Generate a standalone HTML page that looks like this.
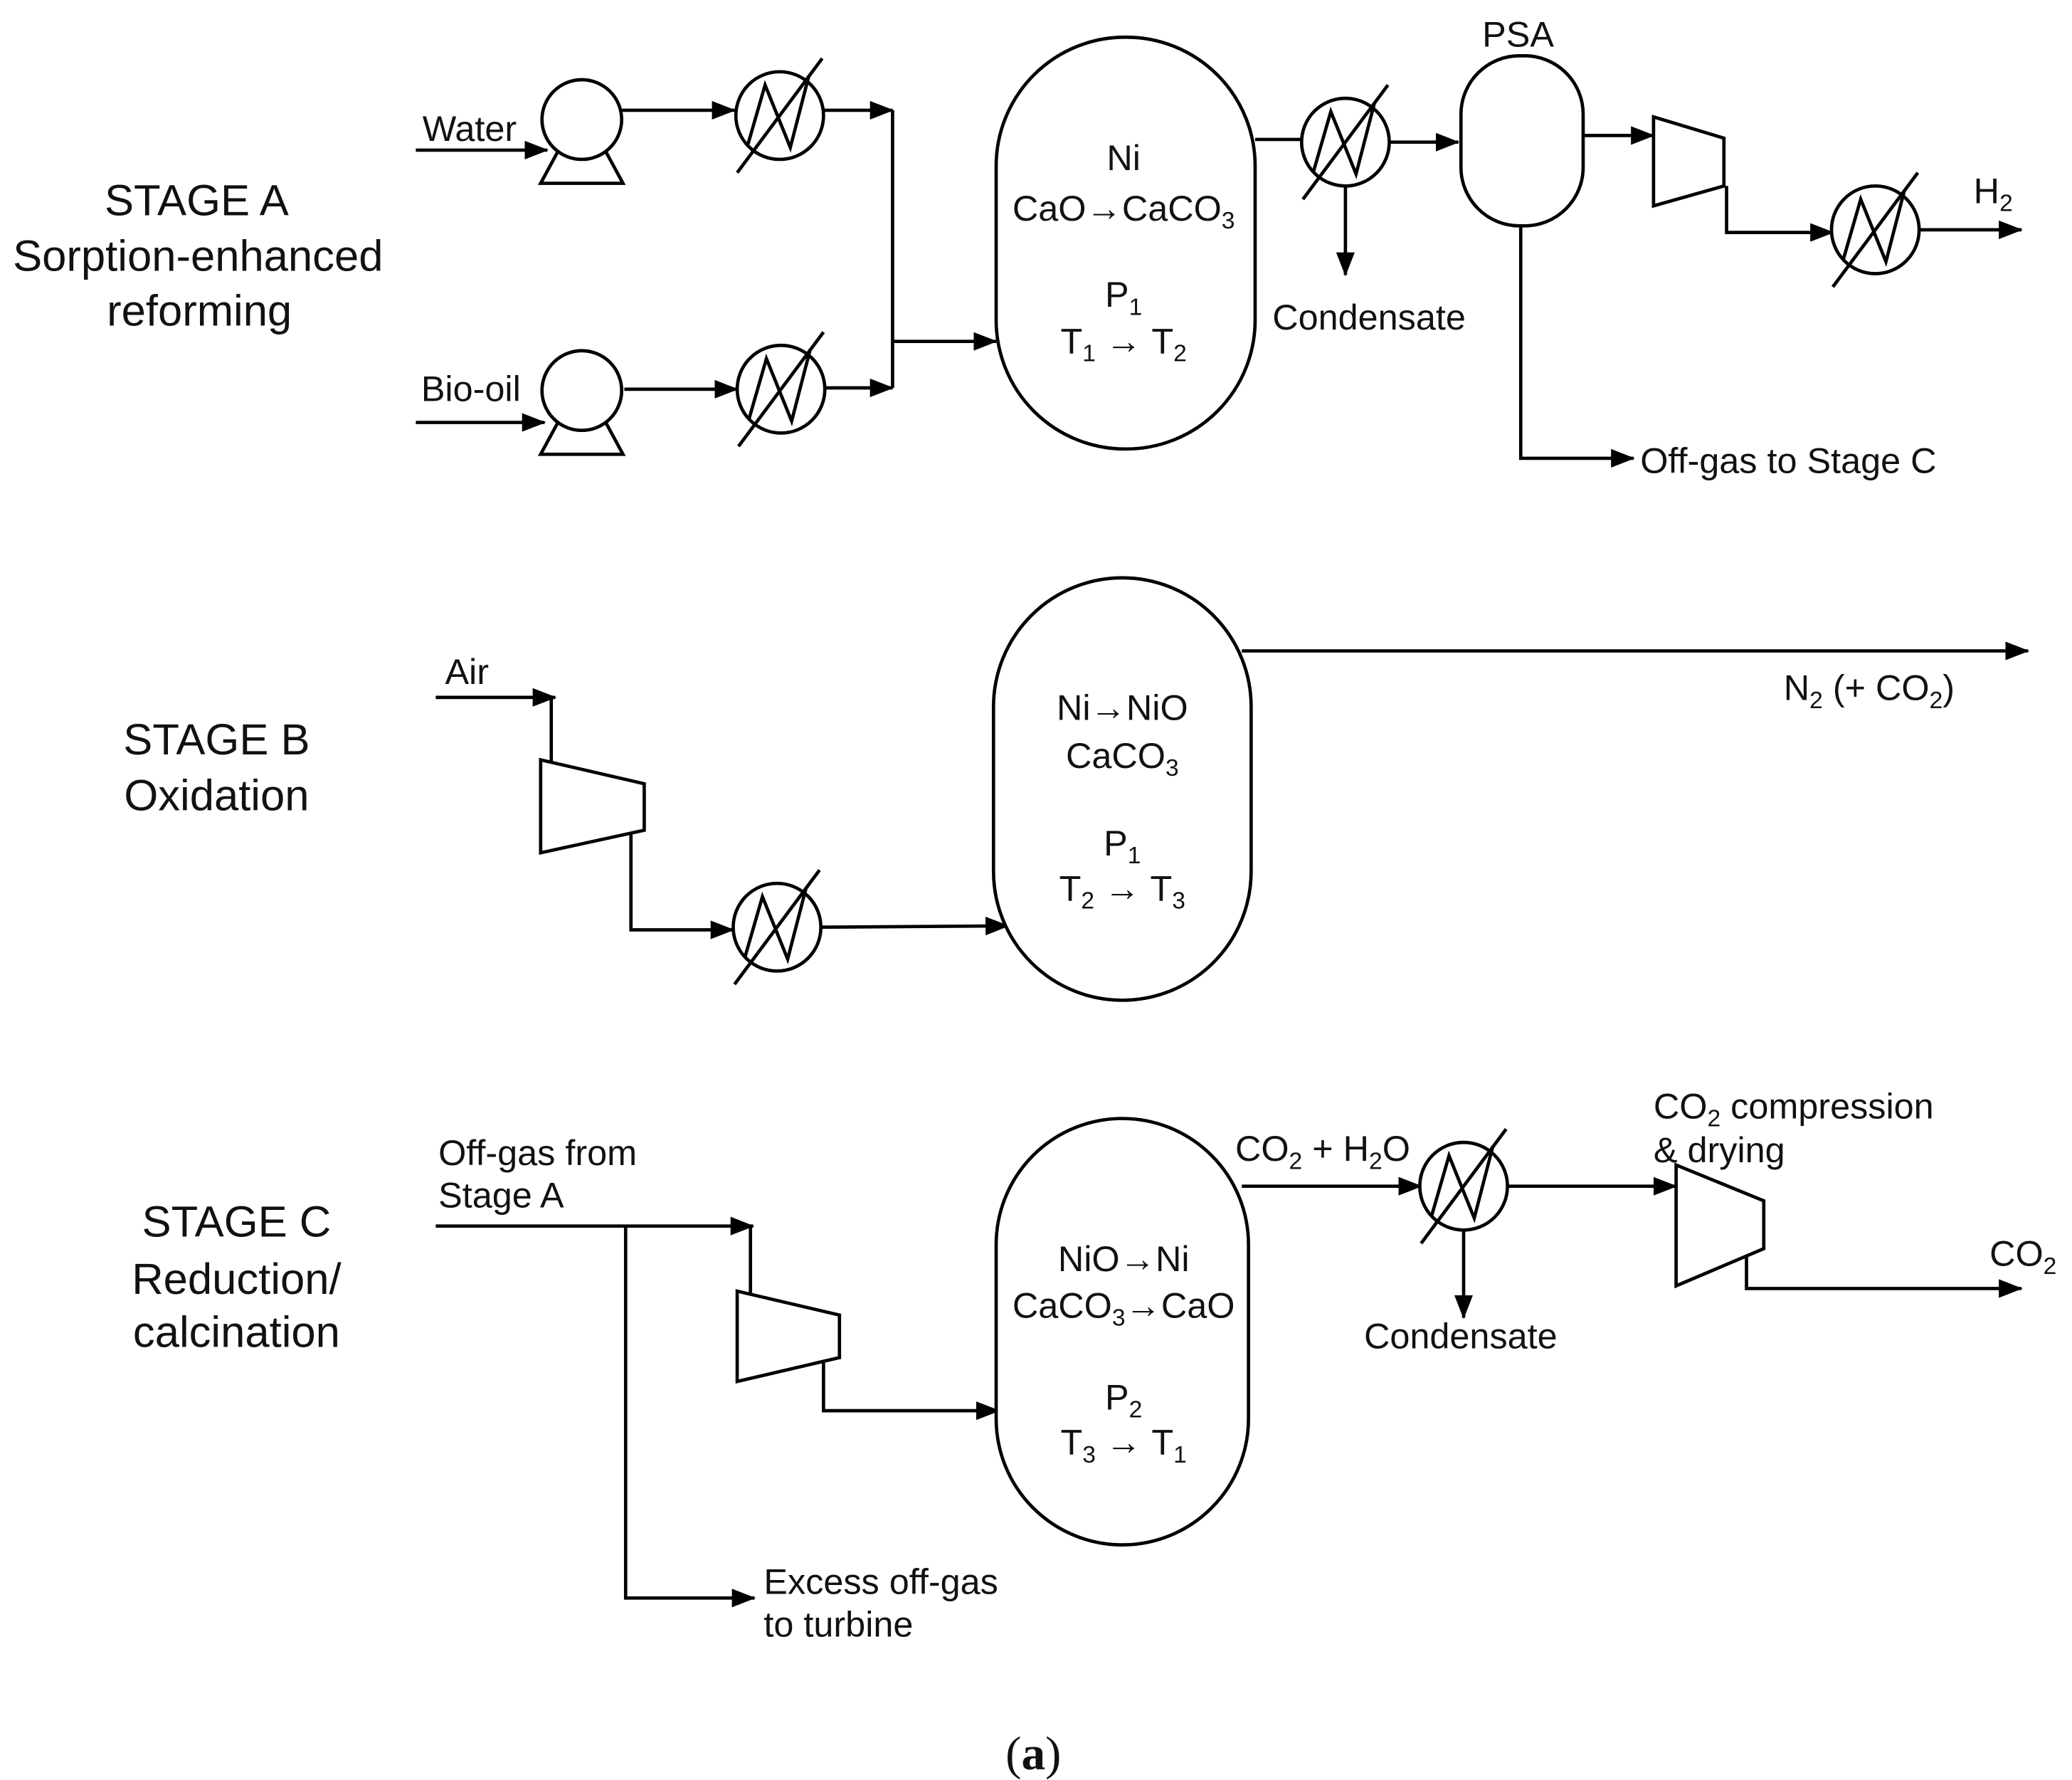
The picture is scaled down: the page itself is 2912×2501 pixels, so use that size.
<!DOCTYPE html>
<html><head><meta charset="utf-8"><style>
html,body{margin:0;padding:0;background:#fff;}
svg{display:block}
text{font-family:"Liberation Sans",Arial,sans-serif;fill:#111}
</style></head><body>
<svg width="2912" height="2501" viewBox="0 0 1560 1340" xmlns="http://www.w3.org/2000/svg">
<defs>
<marker id="a" markerWidth="18" markerHeight="14" refX="17" refY="7" orient="auto" markerUnits="userSpaceOnUse"><path d="M0,0 L18,7 L0,14 z" fill="#000"/></marker>
<g id="hx"><circle cx="0" cy="0" r="33" fill="#fff" stroke="#000" stroke-width="2.5"/><polyline points="-24,22 -11,-23 8,24 22,-30" fill="none" stroke="#000" stroke-width="2.5"/><line x1="-32" y1="43" x2="32" y2="-43" stroke="#000" stroke-width="2.5"/></g>
<g id="pump"><polygon points="-18,24 18,24 31,48 -31,48" fill="#fff" stroke="#000" stroke-width="2.5"/><circle cx="0" cy="0" r="30" fill="#fff" stroke="#000" stroke-width="2.5"/></g>
</defs>
<g fill="none" stroke="#000" stroke-width="2.5">
<line x1="313" y1="113" x2="412" y2="113" marker-end="url(#a)"/>
<line x1="468" y1="83" x2="553" y2="83" marker-end="url(#a)"/>
<line x1="620" y1="83" x2="672" y2="83" marker-end="url(#a)"/>
<line x1="313" y1="318" x2="410" y2="318" marker-end="url(#a)"/>
<line x1="470" y1="293" x2="555" y2="293" marker-end="url(#a)"/>
<line x1="622" y1="292" x2="672" y2="292" marker-end="url(#a)"/>
<line x1="672" y1="83" x2="672" y2="292"/>
<line x1="672" y1="257" x2="750" y2="257" marker-end="url(#a)"/>
<rect x="750" y="28" width="195" height="310" rx="97" fill="#fff"/>
<line x1="945" y1="105" x2="980" y2="105"/>
<line x1="1047" y1="107" x2="1098" y2="107" marker-end="url(#a)"/>
<line x1="1013" y1="140" x2="1013" y2="207" marker-end="url(#a)"/>
<rect x="1100" y="42" width="92" height="128" rx="44" fill="#fff"/>
<line x1="1192" y1="102" x2="1245" y2="102" marker-end="url(#a)"/>
<polygon points="1245,88 1298,104 1298,140 1245,155" fill="#fff"/>
<polyline points="1300,140 1300,175 1380,175" marker-end="url(#a)"/>
<line x1="1446" y1="173" x2="1522" y2="173" marker-end="url(#a)"/>
<polyline points="1145,170 1145,345 1230,345" marker-end="url(#a)"/>
<polyline points="328,525 418,525" marker-end="url(#a)"/>
<line x1="415" y1="525" x2="415" y2="575"/>
<polygon points="407,572 485,590 485,625 407,642" fill="#fff"/>
<polyline points="475,628 475,700 552,700" marker-end="url(#a)"/>
<line x1="618" y1="698" x2="759" y2="697" marker-end="url(#a)"/>
<rect x="748" y="435" width="194" height="318" rx="97" fill="#fff"/>
<line x1="935" y1="490" x2="1527" y2="490" marker-end="url(#a)"/>
<line x1="328" y1="923" x2="567" y2="923" marker-end="url(#a)"/>
<polyline points="471,923 471,1203 568,1203" marker-end="url(#a)"/>
<line x1="565" y1="923" x2="565" y2="978"/>
<polygon points="555,972 632,990 632,1022 555,1040" fill="#fff"/>
<polyline points="620,1026 620,1062 752,1062" marker-end="url(#a)"/>
<rect x="750" y="842" width="190" height="321" rx="95" fill="#fff"/>
<line x1="935" y1="893" x2="1070" y2="893" marker-end="url(#a)"/>
<line x1="1102" y1="926" x2="1102" y2="992" marker-end="url(#a)"/>
<line x1="1136" y1="893" x2="1262" y2="893" marker-end="url(#a)"/>
<polygon points="1262,877 1328,904 1328,940 1262,968" fill="#fff"/>
<polyline points="1315,945 1315,970 1522,970" marker-end="url(#a)"/>
</g>
<use href="#pump" x="438" y="90"/>
<use href="#pump" x="438" y="294"/>
<use href="#hx" x="587" y="87"/>
<use href="#hx" x="588" y="293"/>
<use href="#hx" x="1013" y="107"/>
<use href="#hx" x="1412" y="173"/>
<use href="#hx" x="585" y="698"/>
<use href="#hx" x="1102" y="893"/>
<g font-size="33" text-anchor="middle">
<text x="148" y="162">STAGE A</text>
<text x="149" y="204">Sorption-enhanced</text>
<text x="150" y="245">reforming</text>
<text x="163" y="568">STAGE B</text>
<text x="163" y="610">Oxidation</text>
<text x="178" y="931">STAGE C</text>
<text x="178" y="974">Reduction/</text>
<text x="178" y="1014">calcination</text>
</g>
<g font-size="27">
<text x="318" y="106">Water</text>
<text x="317" y="302">Bio-oil</text>
<text x="958" y="248">Condensate</text>
<text x="1116" y="35">PSA</text>
<text x="1486" y="153">H<tspan font-size="18" dy="6">2</tspan></text>
<text x="1235" y="356">Off-gas to Stage C</text>
<text x="335" y="515">Air</text>
<text x="1343" y="527">N<tspan font-size="18" dy="6">2</tspan><tspan dy="-6"> (+ CO</tspan><tspan font-size="18" dy="6">2</tspan><tspan dy="-6">)</tspan></text>
<text x="330" y="877">Off-gas from</text>
<text x="330" y="909">Stage A</text>
<text x="575" y="1200">Excess off-gas</text>
<text x="575" y="1232">to turbine</text>
<text x="930" y="874">CO<tspan font-size="18" dy="6">2</tspan><tspan dy="-6"> + H</tspan><tspan font-size="18" dy="6">2</tspan><tspan dy="-6">O</tspan></text>
<text x="1027" y="1015">Condensate</text>
<text x="1245" y="842">CO<tspan font-size="18" dy="6">2</tspan><tspan dy="-6"> compression</tspan></text>
<text x="1245" y="875">&amp; drying</text>
<text x="1498" y="953">CO<tspan font-size="18" dy="6">2</tspan></text>
</g>
<g font-size="27" text-anchor="middle">
<text x="846" y="128">Ni</text>
<text x="846" y="166">CaO<tspan font-weight="bold">→</tspan>CaCO<tspan font-size="18" dy="6">3</tspan></text>
<text x="846" y="231">P<tspan font-size="18" dy="6">1</tspan></text>
<text x="846" y="266">T<tspan font-size="18" dy="6">1</tspan><tspan dy="-6" font-weight="bold"> → </tspan>T<tspan font-size="18" dy="6">2</tspan></text>
<text x="845" y="542">Ni<tspan font-weight="bold">→</tspan>NiO</text>
<text x="845" y="578">CaCO<tspan font-size="18" dy="6">3</tspan></text>
<text x="845" y="644">P<tspan font-size="18" dy="6">1</tspan></text>
<text x="845" y="678">T<tspan font-size="18" dy="6">2</tspan><tspan dy="-6" font-weight="bold"> → </tspan>T<tspan font-size="18" dy="6">3</tspan></text>
<text x="846" y="957">NiO<tspan font-weight="bold">→</tspan>Ni</text>
<text x="846" y="992">CaCO<tspan font-size="18" dy="6">3</tspan><tspan dy="-6" font-weight="bold">→</tspan>CaO</text>
<text x="846" y="1061">P<tspan font-size="18" dy="6">2</tspan></text>
<text x="846" y="1095">T<tspan font-size="18" dy="6">3</tspan><tspan dy="-6" font-weight="bold"> → </tspan>T<tspan font-size="18" dy="6">1</tspan></text>
</g>
<text x="778" y="1332" font-size="36" text-anchor="middle" style="font-family:'Liberation Serif',serif">(<tspan font-weight="bold">a</tspan>)</text>
</svg>
</body></html>
